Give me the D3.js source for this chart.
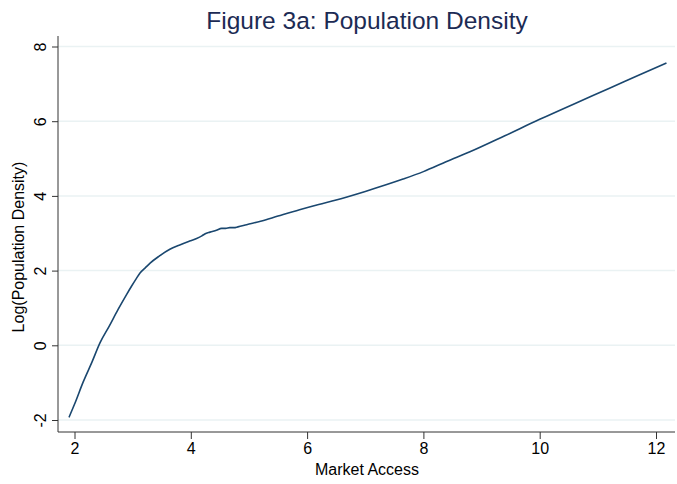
<!DOCTYPE html>
<html>
<head>
<meta charset="utf-8">
<script src="https://cdn.jsdelivr.net/npm/d3@7"></script>
<style>
  body { margin: 0; background: #fff; }
  text { font-family: "Liberation Sans", Arial, sans-serif; }
</style>
</head>
<body>
<div id="chart"></div>
<script>
const TITLE = 'Figure 3a: Population Density',
      X_LABEL = 'Market Access',
      Y_LABEL = 'Log(Population Density)';

const xTicks = [2, 4, 6, 8, 10, 12],
      yTicks = [-2, 0, 2, 4, 6, 8];

// market access (x) vs fitted log density (y)
const marketAccess = [1.905, 2.0, 2.15, 2.3, 2.44, 2.6, 2.75, 2.9, 2.98, 3.06, 3.13,
  3.22, 3.30, 3.45, 3.64, 3.8, 3.98, 4.1, 4.19, 4.24, 4.33, 4.44, 4.53, 4.6, 4.67,
  4.74, 4.81, 4.96, 5.2, 5.5, 5.87, 6.2, 6.5, 7.0, 7.65, 8.0, 8.4, 8.8, 9.4, 10.0,
  10.6, 11.2, 11.7, 12.18];
const logDensity = [-1.93, -1.58, -0.98, -0.45, 0.07, 0.52, 0.96, 1.37, 1.58, 1.78, 1.94,
  2.08, 2.20, 2.38, 2.57, 2.68, 2.79, 2.86, 2.93, 2.98, 3.03, 3.08, 3.13, 3.13, 3.15,
  3.15, 3.17, 3.23, 3.32, 3.46, 3.63, 3.77, 3.89, 4.12, 4.45, 4.65, 4.92, 5.18, 5.61, 6.05,
  6.47, 6.88, 7.23, 7.56];

const W = 677, H = 484;
const plot = { left: 58, right: 675, top: 36, bottom: 432 };

const svg = d3.select('#chart').append('svg')
  .attr('width', W)
  .attr('height', H);

const x = d3.scaleLinear()
  .domain([2, 12])
  .range([74.5, 656]);

const y = d3.scaleLinear()
  .domain([-2, 8])
  .range([420, 46.5]);

// plain hyphen for negatives, like the original
const fmt = (d) => String(d);

// gridlines
svg.append('g')
  .selectAll('line')
  .data(yTicks)
  .enter().append('line')
  .attr('x1', plot.left)
  .attr('x2', plot.right)
  .attr('y1', d => y(d))
  .attr('y2', d => y(d))
  .attr('stroke', '#eaf2f3')
  .attr('stroke-width', 1.5);

// y axis
const yAxis = svg.append('g')
  .attr('transform', 'translate(' + plot.left + ',0)')
  .call(d3.axisLeft(y).tickValues(yTicks).tickFormat(fmt).tickSize(6).tickSizeOuter(0));
yAxis.select('.domain').attr('d', 'M0,' + plot.top + 'V' + plot.bottom).attr('stroke', '#333');
yAxis.selectAll('.tick line').attr('stroke', '#333');
yAxis.selectAll('.tick text')
  .attr('font-size', 16)
  .attr('fill', '#000')
  .attr('text-anchor', 'middle')
  .attr('dy', 0)
  .attr('x', 0)
  .attr('transform', 'translate(-12,0) rotate(-90)');

// x axis
const xAxis = svg.append('g')
  .attr('transform', 'translate(0,' + plot.bottom + ')')
  .call(d3.axisBottom(x).tickValues(xTicks).tickFormat(fmt).tickSize(7).tickSizeOuter(0).tickPadding(4));
xAxis.select('.domain').attr('d', 'M' + plot.left + ',0H' + plot.right).attr('stroke', '#333');
xAxis.selectAll('.tick line').attr('stroke', '#333');
xAxis.selectAll('.tick text')
  .attr('font-size', 16)
  .attr('fill', '#000');

// fitted curve
const pts = marketAccess.map((d, i) => [d, logDensity[i]]);
const line = d3.line()
  .x(d => x(d[0]))
  .y(d => y(d[1]))
  .curve(d3.curveMonotoneX);

svg.append('path')
  .datum(pts)
  .attr('d', line)
  .attr('fill', 'none')
  .attr('stroke', '#1a476f')
  .attr('stroke-width', 1.6);

// titles
svg.append('text')
  .attr('x', 367)
  .attr('y', 29)
  .attr('text-anchor', 'middle')
  .attr('font-size', 24.5)
  .attr('fill', '#1c2b54')
  .text(TITLE);

svg.append('text')
  .attr('x', 367)
  .attr('y', 475)
  .attr('text-anchor', 'middle')
  .attr('font-size', 16)
  .attr('fill', '#000')
  .text(X_LABEL);

svg.append('text')
  .attr('transform', 'translate(24,247) rotate(-90)')
  .attr('text-anchor', 'middle')
  .attr('font-size', 16)
  .attr('fill', '#000')
  .text(Y_LABEL);
</script>
</body>
</html>
